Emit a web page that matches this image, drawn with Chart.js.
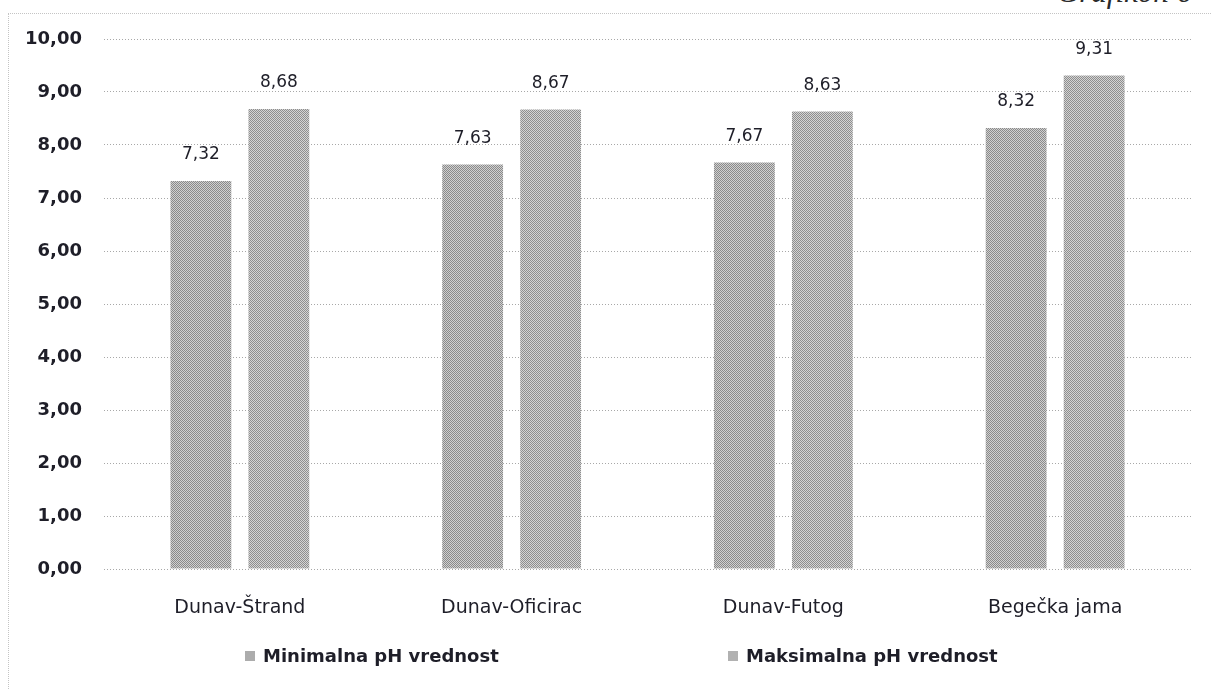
<!DOCTYPE html>
<html>
<head>
<meta charset="utf-8">
<title>pH vrednost</title>
<script src="https://cdn.jsdelivr.net/npm/chart.js@4.4.1/dist/chart.umd.min.js"></script>
<style>
  body { margin: 0; background: #fff; }
  #wrap { position: relative; width: 1211px; height: 689px; overflow: hidden; background: #fff; }
  #frame {
    position: absolute; left: 8px; top: 13px; right: -10px; bottom: -10px;
    border-left: 1px dotted #c4c4c4; border-top: 1px dotted #c4c4c4;
  }
  #caption {
    position: absolute; right: 19px; top: -26px;
    font: italic 31px "Liberation Serif", serif; color: #2a2a2a; white-space: nowrap;
  }
  #legend { position: absolute; left: 0; top: 645px; width: 1211px; height: 26px; }
  .item {
    position: absolute; top: 0; display: flex; align-items: center;
    font: bold 18px "DejaVu Sans", sans-serif; color: #1e1e28; white-space: nowrap;
  }
  .item .box { width: 10px; height: 10px; margin-right: 8px; }
  canvas { position: absolute; left: 0; top: 0; }
</style>
</head>
<body>
<div id="wrap">
  <div id="frame"></div>
  <div id="caption">Grafikon 6</div>
  <canvas id="chart" width="1211" height="689"></canvas>
  <div id="legend"></div>
</div>
<script>
const categories = ['Dunav-Štrand', 'Dunav-Oficirac', 'Dunav-Futog', 'Begečka jama'];
const seriesNames = ['Minimalna pH vrednost', 'Maksimalna pH vrednost'];
const minValues = [7.32, 7.63, 7.67, 8.32];
const maxValues = [8.68, 8.67, 8.63, 9.31];
const yTicks = [0, 1, 2, 3, 4, 5, 6, 7, 8, 9, 10];

const fmt = (v) => v.toFixed(2).replace('.', ',');

// fine halftone fill, like the printed bars
function halftone(dark, light) {
  const c = document.createElement('canvas');
  c.width = 2; c.height = 2;
  const g = c.getContext('2d');
  g.fillStyle = light; g.fillRect(0, 0, 2, 2);
  g.fillStyle = dark; g.fillRect(0, 0, 1, 1); g.fillRect(1, 1, 1, 1);
  return g.createPattern(c, 'repeat');
}
const minFill = halftone('#8a8a8a', '#d0d0d0');
const maxFill = halftone('#8e8e8e', '#d4d4d4');

const valueLabels = {
  id: 'valueLabels',
  afterDatasetsDraw(chart) {
    const { ctx } = chart;
    ctx.save();
    ctx.font = '17px "DejaVu Sans", sans-serif';
    ctx.fillStyle = '#1e1e28';
    ctx.textAlign = 'center';
    ctx.textBaseline = 'middle';
    chart.data.datasets.forEach((ds, i) => {
      chart.getDatasetMeta(i).data.forEach((bar, j) => {
        ctx.fillText(fmt(ds.data[j]), bar.x, bar.y - 26);
      });
    });
    ctx.restore();
  }
};

// legend built from the datasets, laid out under the plot
const htmlLegend = {
  id: 'htmlLegend',
  afterUpdate(chart) {
    const box = document.getElementById('legend');
    box.innerHTML = '';
    const lefts = [245, 728];
    chart.data.datasets.forEach((ds, i) => {
      const item = document.createElement('div');
      item.className = 'item';
      item.style.left = lefts[i] + 'px';
      const sw = document.createElement('span');
      sw.className = 'box';
      sw.style.background = i === 0 ? '#acacac' : '#b1b1b1';
      const txt = document.createElement('span');
      txt.textContent = ds.label;
      item.appendChild(sw);
      item.appendChild(txt);
      box.appendChild(item);
    });
  }
};

Chart.defaults.font.family = '"DejaVu Sans", sans-serif';
Chart.defaults.color = '#1e1e28';

new Chart(document.getElementById('chart'), {
  type: 'bar',
  data: {
    labels: categories,
    datasets: [
      { label: seriesNames[0], data: minValues, backgroundColor: minFill },
      { label: seriesNames[1], data: maxValues, backgroundColor: maxFill }
    ]
  },
  options: {
    responsive: false,
    animation: false,
    devicePixelRatio: 1,
    layout: { padding: { left: 0, right: 20, top: 39, bottom: 0 } },
    datasets: { bar: { barPercentage: 0.78, categoryPercentage: 0.574 } },
    plugins: {
      legend: { display: false },
      tooltip: { enabled: false }
    },
    scales: {
      x: {
        grid: { display: false },
        border: { display: false },
        ticks: { font: { size: 19 }, padding: 20, maxRotation: 0 },
        afterFit(scale) { scale.height = 120; }
      },
      y: {
        min: yTicks[0],
        max: yTicks[yTicks.length - 1],
        afterBuildTicks(scale) { scale.ticks = yTicks.map(v => ({ value: v })); },
        border: { display: false, dash: [1, 2] },
        grid: { color: '#a8a8a8', lineWidth: 1, drawTicks: false },
        ticks: { font: { size: 18, weight: 'bold' }, padding: 22, callback: (v) => fmt(v) },
        afterFit(scale) { scale.width = 104; }
      }
    }
  },
  plugins: [valueLabels, htmlLegend]
});
</script>
</body>
</html>
